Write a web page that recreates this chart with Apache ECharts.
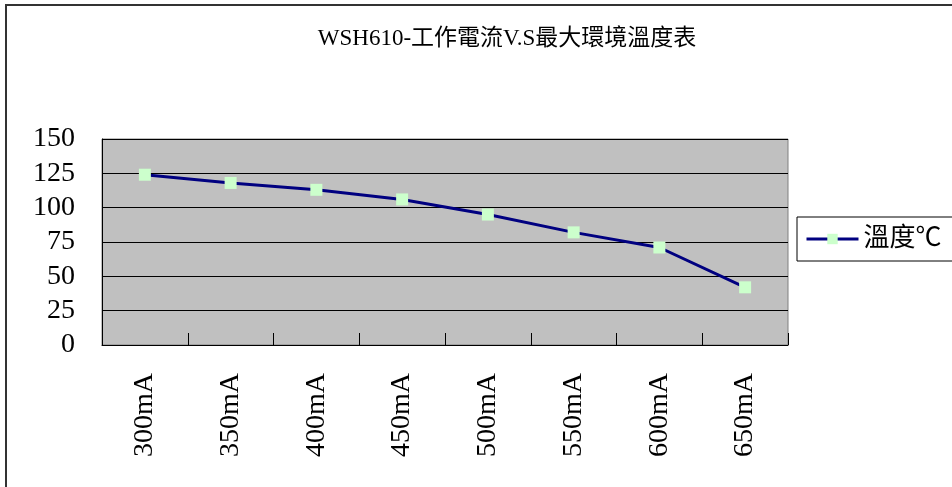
<!DOCTYPE html>
<html>
<head>
<meta charset="utf-8">
<script src="https://cdn.jsdelivr.net/npm/echarts@6/dist/echarts.min.js"></script>
<style>
  html, body { margin: 0; padding: 0; background: #fff; }
  #main { width: 952px; height: 487px; }
</style>
</head>
<body>
<div id="main"></div>
<script>
// 工作電流 vs 最大環境溫度
const titleText = 'WSH610-工作電流V.S最大環境溫度表'
const seriesName = '溫度℃'
const currents = ['300mA', '350mA', '400mA', '450mA', '500mA', '550mA', '600mA', '650mA']
const temps = [124, 118, 113, 106, 95, 82, 71, 42]
const yTicks = { min: 0, max: 150, interval: 25 }

const font = "'Liberation Serif', 'Noto Sans CJK TC', serif"
const chart = echarts.init(document.getElementById('main'))

chart.setOption({
  backgroundColor: '#fff',
  animation: false,
  textStyle: { fontFamily: font },
  title: {
    text: titleText,
    left: 502,
    top: 22,
    textAlign: 'center',
    textStyle: { fontFamily: font, fontSize: 23, fontWeight: 'normal', color: '#000' }
  },
  legend: {
    left: 797,
    top: 217,
    orient: 'vertical',
    borderColor: '#000',
    borderWidth: 1,
    borderRadius: 0,
    padding: [9, 30, 9, 8],
    itemWidth: 52,
    itemHeight: 13,
    lineStyle: { width: 3, color: '#000080' },
    textStyle: { fontFamily: font, fontSize: 26, color: '#000' },
    data: [seriesName]
  },
  grid: {
    left: 102,
    top: 139,
    right: 164,
    bottom: 142,
    show: true,
    backgroundColor: '#c0c0c0',
    borderColor: '#808080',
    borderWidth: 1
  },
  xAxis: {
    type: 'category',
    data: currents,
    boundaryGap: true,
    axisLine: { show: true, lineStyle: { color: '#000', width: 1 } },
    axisTick: { show: true, inside: true, length: 12, interval: 0, lineStyle: { color: '#000', width: 1 } },
    axisLabel: { rotate: 90, margin: 28, fontSize: 28, color: '#000', fontFamily: font }
  },
  yAxis: {
    type: 'value',
    min: yTicks.min,
    max: yTicks.max,
    interval: yTicks.interval,
    axisLine: { show: true, lineStyle: { color: '#000', width: 1 } },
    axisTick: { show: true, inside: true, length: 11, lineStyle: { color: '#000' } },
    splitLine: { lineStyle: { color: '#000', width: 1 } },
    axisLabel: { margin: 27, fontSize: 28, color: '#000', fontFamily: font }
  },
  graphic: [{
    type: 'rect',
    shape: { x: 6, y: 5, width: 1200, height: 1000 },
    style: { fill: 'none', stroke: '#333', lineWidth: 2 },
    silent: true
  }],
  series: [{
    name: seriesName,
    type: 'line',
    data: temps,
    symbol: 'rect',
    symbolSize: 12,
    lineStyle: { color: '#000080', width: 3 },
    itemStyle: { color: '#ccffcc', borderWidth: 0 }
  }]
})
</script>
</body>
</html>
